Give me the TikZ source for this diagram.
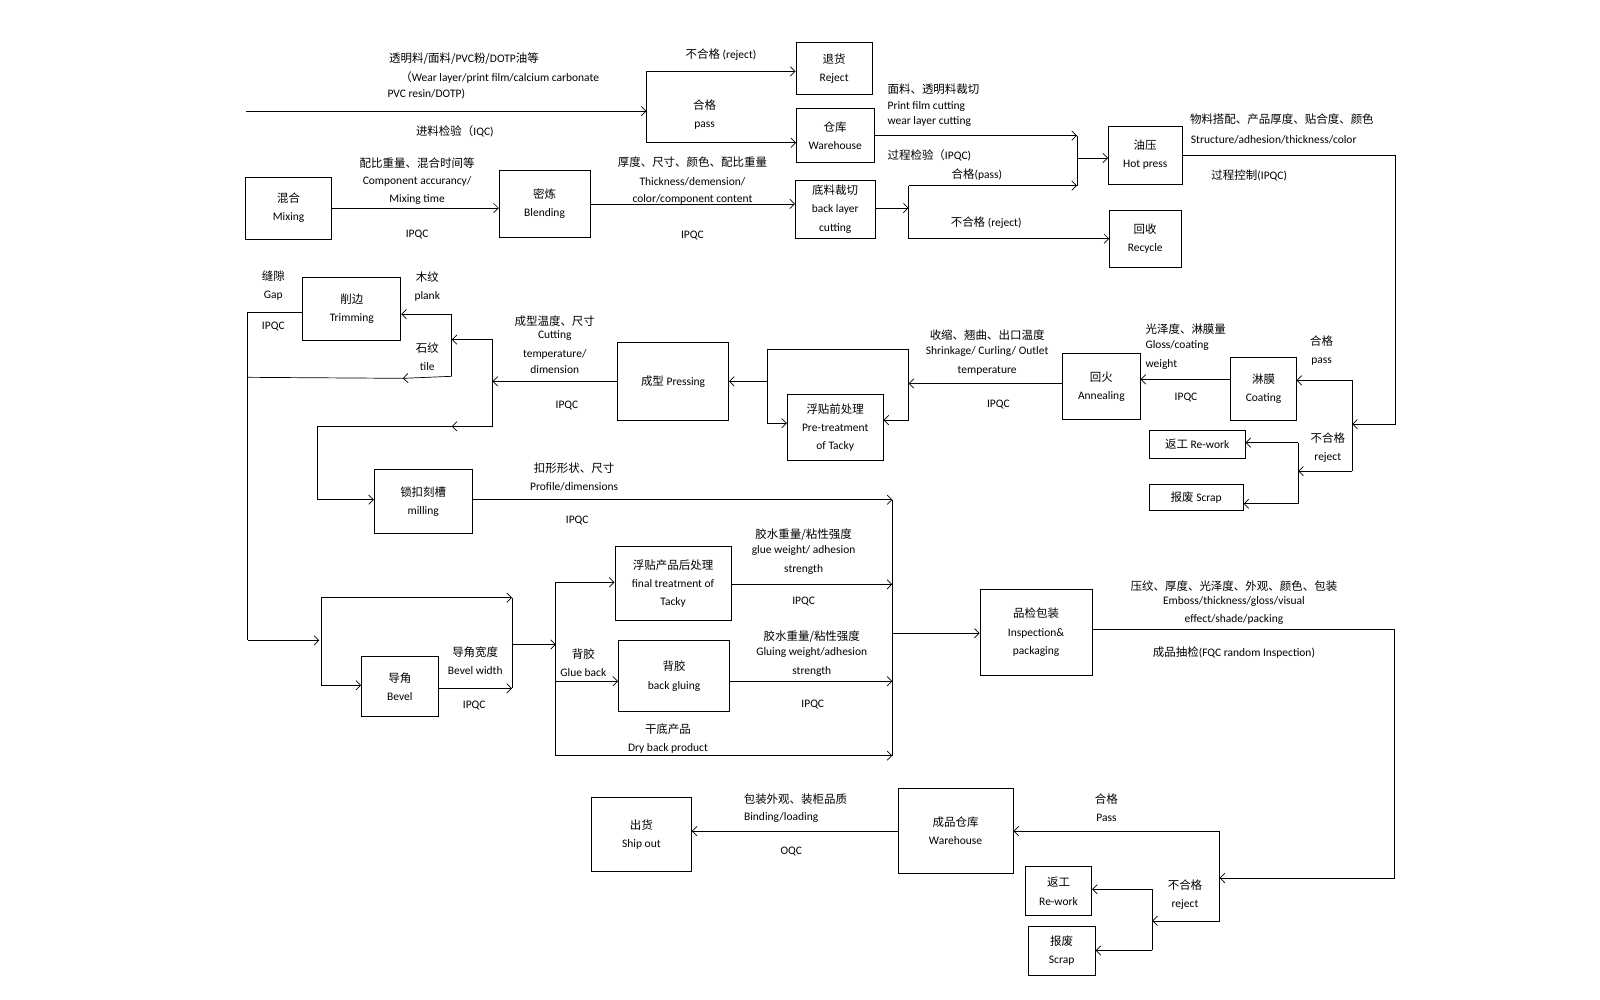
\documentclass[tikz,border=0pt]{standalone}
\usepackage{fontspec}
\setmainfont{Carlito}
\newfontfamily\zhfont{Noto Sans CJK SC}
\newcommand\zh[1]{{\zhfont #1}}
\usetikzlibrary{arrows.meta}
\tikzset{
  box/.style={draw, line width=0.7pt, align=center, inner sep=1pt},
  sz/.style 2 args={minimum width=#1*0.0306cm, minimum height=#2*0.0306cm},
  lbl/.style={align=center, inner sep=0pt},
}
\begin{document}
\begin{tikzpicture}[x=0.0306cm, y=-0.0306cm, line width=0.6pt, font=\fontsize{9.8}{15.5}\selectfont,
  >={Straight Barb[length=4pt,width=8pt]}]
\useasboundingbox (0,0) rectangle (48cm,-30cm);
% boxes
\node[box, sz={75}{51}] (reject) at (818,67) {\zh{退货}\\Reject};
\node[box, sz={76}{53}] (wh1) at (819,133) {\zh{仓库}\\Warehouse};
\node[box, sz={84}{61}] (mix) at (283,204) {\zh{混合}\\Mixing};
\node[box, sz={89}{65}] (blend) at (534,200) {\zh{密炼}\\Blending};
\node[box, sz={78}{57}] (bcut) at (819,205) {\zh{底料裁切}\\back layer\\cutting};
\node[box, sz={72}{57}] (hp) at (1123,152) {\zh{油压}\\Hot press};
\node[box, sz={70}{56}] (rec) at (1123,234) {\zh{回收}\\Recycle};
\node[box, sz={96}{62}] (trim) at (345,303) {\zh{削边}\\Trimming};
\node[box, sz={109}{76}] (press) at (660,374) {\zh{成型} Pressing};
\node[box, sz={94}{65}] (pre) at (819,419) {\zh{浮贴前处理}\\Pre-treatment\\of Tacky};
\node[box, sz={76}{64}] (ann) at (1080,379) {\zh{回火}\\Annealing};
\node[box, sz={64}{62}] (coat) at (1239,381) {\zh{淋膜}\\Coating};
\node[box, sz={94}{27}] (rw1) at (1174,436) {\zh{返工} Re-work};
\node[box, sz={92}{25}] (sc1) at (1173,488) {\zh{报废} Scrap};
\node[box, sz={96}{63}] (mill) at (415,492) {\zh{锁扣刻槽}\\milling};
\node[box, sz={75}{59}] (bev) at (392,673) {\zh{导角}\\Bevel};
\node[box, sz={114}{72}] (ftr) at (660,572) {\zh{浮贴产品后处理}\\final treatment of\\Tacky};
\node[box, sz={109}{70}] (bg) at (661,663) {\zh{背胶}\\back gluing};
\node[box, sz={110}{84}] (insp) at (1016,620) {\zh{品检包装}\\Inspection\&\\packaging};
\node[box, sz={113}{83}] (fwh) at (937,815) {\zh{成品仓库}\\Warehouse};
\node[box, sz={98}{73}] (ship) at (629,818) {\zh{出货}\\Ship out};
\node[box, sz={65}{48}] (rw2) at (1038,874) {\zh{返工}\\Re-work};
\node[box, sz={66}{48}] (sc2) at (1041,932) {\zh{报废}\\Scrap};
% junctions
\coordinate (in) at (241,109); \coordinate (iqc) at (634,109);
\coordinate (iqcT) at (634,70); \coordinate (iqcB) at (634,140);
\coordinate (j1) at (1056,133); \coordinate (j2) at (1056,182); \coordinate (j3) at (1056,155);
\coordinate (k) at (891,204); \coordinate (kT) at (891,182); \coordinate (kB) at (891,234);
\coordinate (r1) at (1368,152); \coordinate (r2) at (1368,416);
\coordinate (m) at (1326,416); \coordinate (mT) at (1326,373); \coordinate (mB) at (1326,462);
\coordinate (n) at (1273,462); \coordinate (nT) at (1273,434); \coordinate (nB) at (1273,494);
\coordinate (p) at (891,376); \coordinate (pT) at (891,343); \coordinate (pB) at (891,412);
\coordinate (qT) at (752,343); \coordinate (qM) at (752,374); \coordinate (qB) at (752,415);
\coordinate (s) at (483,374); \coordinate (sT) at (483,333); \coordinate (sB) at (483,418);
\coordinate (t) at (443,333); \coordinate (tT) at (443,308); \coordinate (tB) at (443,369);
\coordinate (u) at (395,371); \coordinate (g1) at (243,306); \coordinate (g2) at (243,370);
\coordinate (g3) at (243,628); \coordinate (v) at (313,628);
\coordinate (w) at (443,418); \coordinate (x0) at (311,418); \coordinate (x1) at (311,490);
\coordinate (y0) at (875,490); \coordinate (y1) at (875,741); \coordinate (y2) at (875,621);
\coordinate (yF) at (875,573); \coordinate (yG) at (875,668);
\coordinate (vT) at (315,586); \coordinate (vB) at (315,672);
\coordinate (zT) at (502,586); \coordinate (zB) at (502,675); \coordinate (zM) at (502,632);
\coordinate (aM) at (545,632); \coordinate (aT) at (545,571); \coordinate (aB) at (545,741);
\coordinate (aG) at (545,668);
\coordinate (b0) at (1367,617); \coordinate (b1) at (1367,861);
\coordinate (c) at (1196,861); \coordinate (cT) at (1196,815); \coordinate (cB) at (1196,903);
\coordinate (d) at (1130,903); \coordinate (dT) at (1130,872); \coordinate (dB) at (1130,932);
% connectors
\draw[->] (in) -- (iqc);
\draw (iqcT) -- (iqcB);
\draw[->] (iqcT) -- (reject.west |- iqcT);
\draw[->] (iqcB) -- (wh1.west |- iqcB);
\draw[->] (mix.east) -- (blend.west |- mix.east);
\draw[->] (blend.east) -- (bcut.west |- blend.east);
\draw[->] (wh1.east |- j1) -- (j1);
\draw (j1) -- (j2);
\draw[->] (j3) -- (hp.west |- j3);
\draw[->] (bcut.east |- k) -- (k);
\draw (kT) -- (kB);
\draw[->] (kT) -- (j2);
\draw[->] (kB) -- (rec.west |- kB);
\draw[->] (hp.east |- r1) -- (r1) -- (r2) -- (m);
\draw (mT) -- (mB);
\draw[->] (mT) -- (coat.east |- mT);
\draw[->] (mB) -- (n);
\draw (nT) -- (nB);
\draw[->] (nT) -- (rw1.east |- nT);
\draw[->] (nB) -- (sc1.east |- nB);
\draw[->] (coat.west |- 0,372) -- (ann.east |- 0,372);
\draw[->] (ann.west |- p) -- (p);
\draw (qB) -- (qT) -- (pT) -- (pB);
\draw[->] (pB) -- (pre.east |- pB);
\draw[->] (qM) -- (press.east |- qM);
\draw[->] (qB) -- (pre.west |- qB);
\draw[->] (press.west |- s) -- (s);
\draw (sT) -- (sB);
\draw[->] (sT) -- (t);
\draw (tT) -- (tB);
\draw[->] (tT) -- (trim.east |- tT);
\draw[->] (tB) -- (u);
\draw (u) -- (g2);
\draw (trim.west |- g1) -- (g1) -- (g3);
\draw[->] (g3) -- (v);
\draw[->] (sB) -- (w);
\draw (w) -- (x0) -- (x1);
\draw[->] (x1) -- (mill.west |- x1);
\draw[->] (mill.east |- y0) -- (y0);
\draw (y0) -- (y1);
\draw[->] (y2) -- (insp.west |- y2);
\draw (vT) -- (vB);
\draw[->] (vT) -- (zT);
\draw[->] (vB) -- (bev.west |- vB);
\draw[->] (bev.east |- zB) -- (zB);
\draw (zT) -- (zB);
\draw[->] (zM) -- (aM);
\draw (aT) -- (aB);
\draw[->] (aT) -- (ftr.west |- aT);
\draw[->] (aG) -- (bg.west |- aG);
\draw[->] (aB) -- (y1);
\draw[->] (ftr.east |- yF) -- (yF);
\draw[->] (bg.east |- yG) -- (yG);
\draw[->] (insp.east |- b0) -- (b0) -- (b1) -- (c);
\draw (cT) -- (cB);
\draw[->] (cT) -- (fwh.east |- cT);
\draw[->] (cB) -- (d);
\draw (dT) -- (dB);
\draw[->] (dT) -- (rw2.east |- dT);
\draw[->] (dB) -- (sc2.east |- dB);
\draw[->] (fwh.west) -- (ship.east |- fwh.west);
% labels
\node[lbl] (l1) at (455,58) {\zh{透明料/面料/}PVC\zh{粉/}DOTP\zh{油等}};
\node[lbl] (l2) at (490,76) {\zh{（}Wear layer/print film/calcium carbonate};
\node[lbl] (l3) at (418,92) {PVC resin/DOTP)};
\node[lbl] (l4) at (446,129) {\zh{进料检验（}IQC)};
\node[lbl] (l5) at (707,54) {\zh{不合格} (reject)};
\node[lbl] (l6) at (691,112) {\zh{合格}\\pass};
\node[lbl] (l7) at (409,160) {\zh{配比重量、混合时间等}};
\node[lbl] (l8) at (409,178) {Component accurancy/};
\node[lbl] (l9) at (409,196) {Mixing time};
\node[lbl] (l10) at (409,230) {IPQC};
\node[lbl] (l11) at (679,159) {\zh{厚度、尺寸、颜色、配比重量}};
\node[lbl] (l12) at (679,178) {Thickness/demension/};
\node[lbl] (l13) at (679,196) {color/component content};
\node[lbl] (l14) at (679,231) {IPQC};
\node[lbl, anchor=west] (l15) at (870,87) {\zh{面料、透明料裁切}};
\node[lbl, anchor=west] (l16) at (870,104) {Print film cutting};
\node[lbl, anchor=west] (l17) at (870,119) {wear layer cutting};
\node[lbl, anchor=west] (l18) at (870,152) {\zh{过程检验（}IPQC)};
\node[lbl] (l19) at (958,171) {\zh{合格}(pass)};
\node[lbl] (l20) at (967,218) {\zh{不合格} (reject)};
\node[lbl] (l21) at (1257,117) {\zh{物料搭配、产品厚度、贴合度、颜色}};
\node[lbl] (l22) at (1249,137) {Structure/adhesion/thickness/color};
\node[lbl] (l23) at (1225,172) {\zh{过程控制}(IPQC)};
\node[lbl] (l24) at (1296,344) {\zh{合格}\\pass};
\node[lbl] (l25) at (1302,439) {\zh{不合格}\\reject};
\node[lbl, anchor=west] (l26) at (1123,323) {\zh{光泽度、淋膜量}};
\node[lbl, anchor=west] (l27) at (1123,339) {Gloss/coating};
\node[lbl, anchor=west] (l28) at (1123,357) {weight};
\node[lbl] (l29) at (1163,390) {IPQC};
\node[lbl] (l30) at (968,329) {\zh{收缩、翘曲、出口温度}};
\node[lbl] (l31) at (968,345) {Shrinkage/ Curling/ Outlet};
\node[lbl] (l32) at (968,364) {temperature};
\node[lbl] (l33) at (979,397) {IPQC};
\node[lbl] (l34) at (544,315) {\zh{成型温度、尺寸}};
\node[lbl] (l35) at (544,329) {Cutting};
\node[lbl] (l36) at (544,348) {temperature/};
\node[lbl] (l37) at (544,362) {dimension};
\node[lbl] (l38) at (556,398) {IPQC};
\node[lbl] (l39) at (419,281) {\zh{木纹}\\plank};
\node[lbl] (l40) at (419,350) {\zh{石纹}\\tile};
\node[lbl] (l41) at (268,280) {\zh{缝隙}\\Gap};
\node[lbl] (l42) at (268,320) {IPQC};
\node[lbl] (l43) at (563,459) {\zh{扣形形状、尺寸}};
\node[lbl] (l44) at (563,477) {Profile/dimensions};
\node[lbl] (l45) at (566,510) {IPQC};
\node[lbl] (l46) at (466,648) {\zh{导角宽度}\\Bevel width};
\node[lbl] (l47) at (465,692) {IPQC};
\node[lbl] (l48) at (572,650) {\zh{背胶}\\Glue back};
\node[lbl] (l49) at (655,724) {\zh{干底产品}\\Dry back product};
\node[lbl] (l50) at (788,524) {\zh{胶水重量/粘性强度}};
\node[lbl] (l51) at (788,540) {glue weight/ adhesion};
\node[lbl] (l52) at (788,558) {strength};
\node[lbl] (l53) at (788,590) {IPQC};
\node[lbl] (l54) at (796,624) {\zh{胶水重量/粘性强度}};
\node[lbl] (l55) at (796,640) {Gluing weight/adhesion};
\node[lbl] (l56) at (796,658) {strength};
\node[lbl] (l57) at (797,691) {IPQC};
\node[lbl] (l58) at (1210,575) {\zh{压纹、厚度、光泽度、外观、颜色、包装}};
\node[lbl] (l59) at (1210,590) {Emboss/thickness/gloss/visual};
\node[lbl] (l60) at (1210,607) {effect/shade/packing};
\node[lbl] (l61) at (1210,640) {\zh{成品抽检}(FQC random Inspection)};
\node[lbl] (l62) at (1085,792) {\zh{合格}\\Pass};
\node[lbl] (l63) at (1162,877) {\zh{不合格}\\reject};
\node[lbl] (l64) at (780,784) {\zh{包装外观、装柜品质}};
\node[lbl] (l65) at (766,802) {Binding/loading};
\node[lbl] (l66) at (776,835) {OQC};
\end{tikzpicture}
\end{document}
